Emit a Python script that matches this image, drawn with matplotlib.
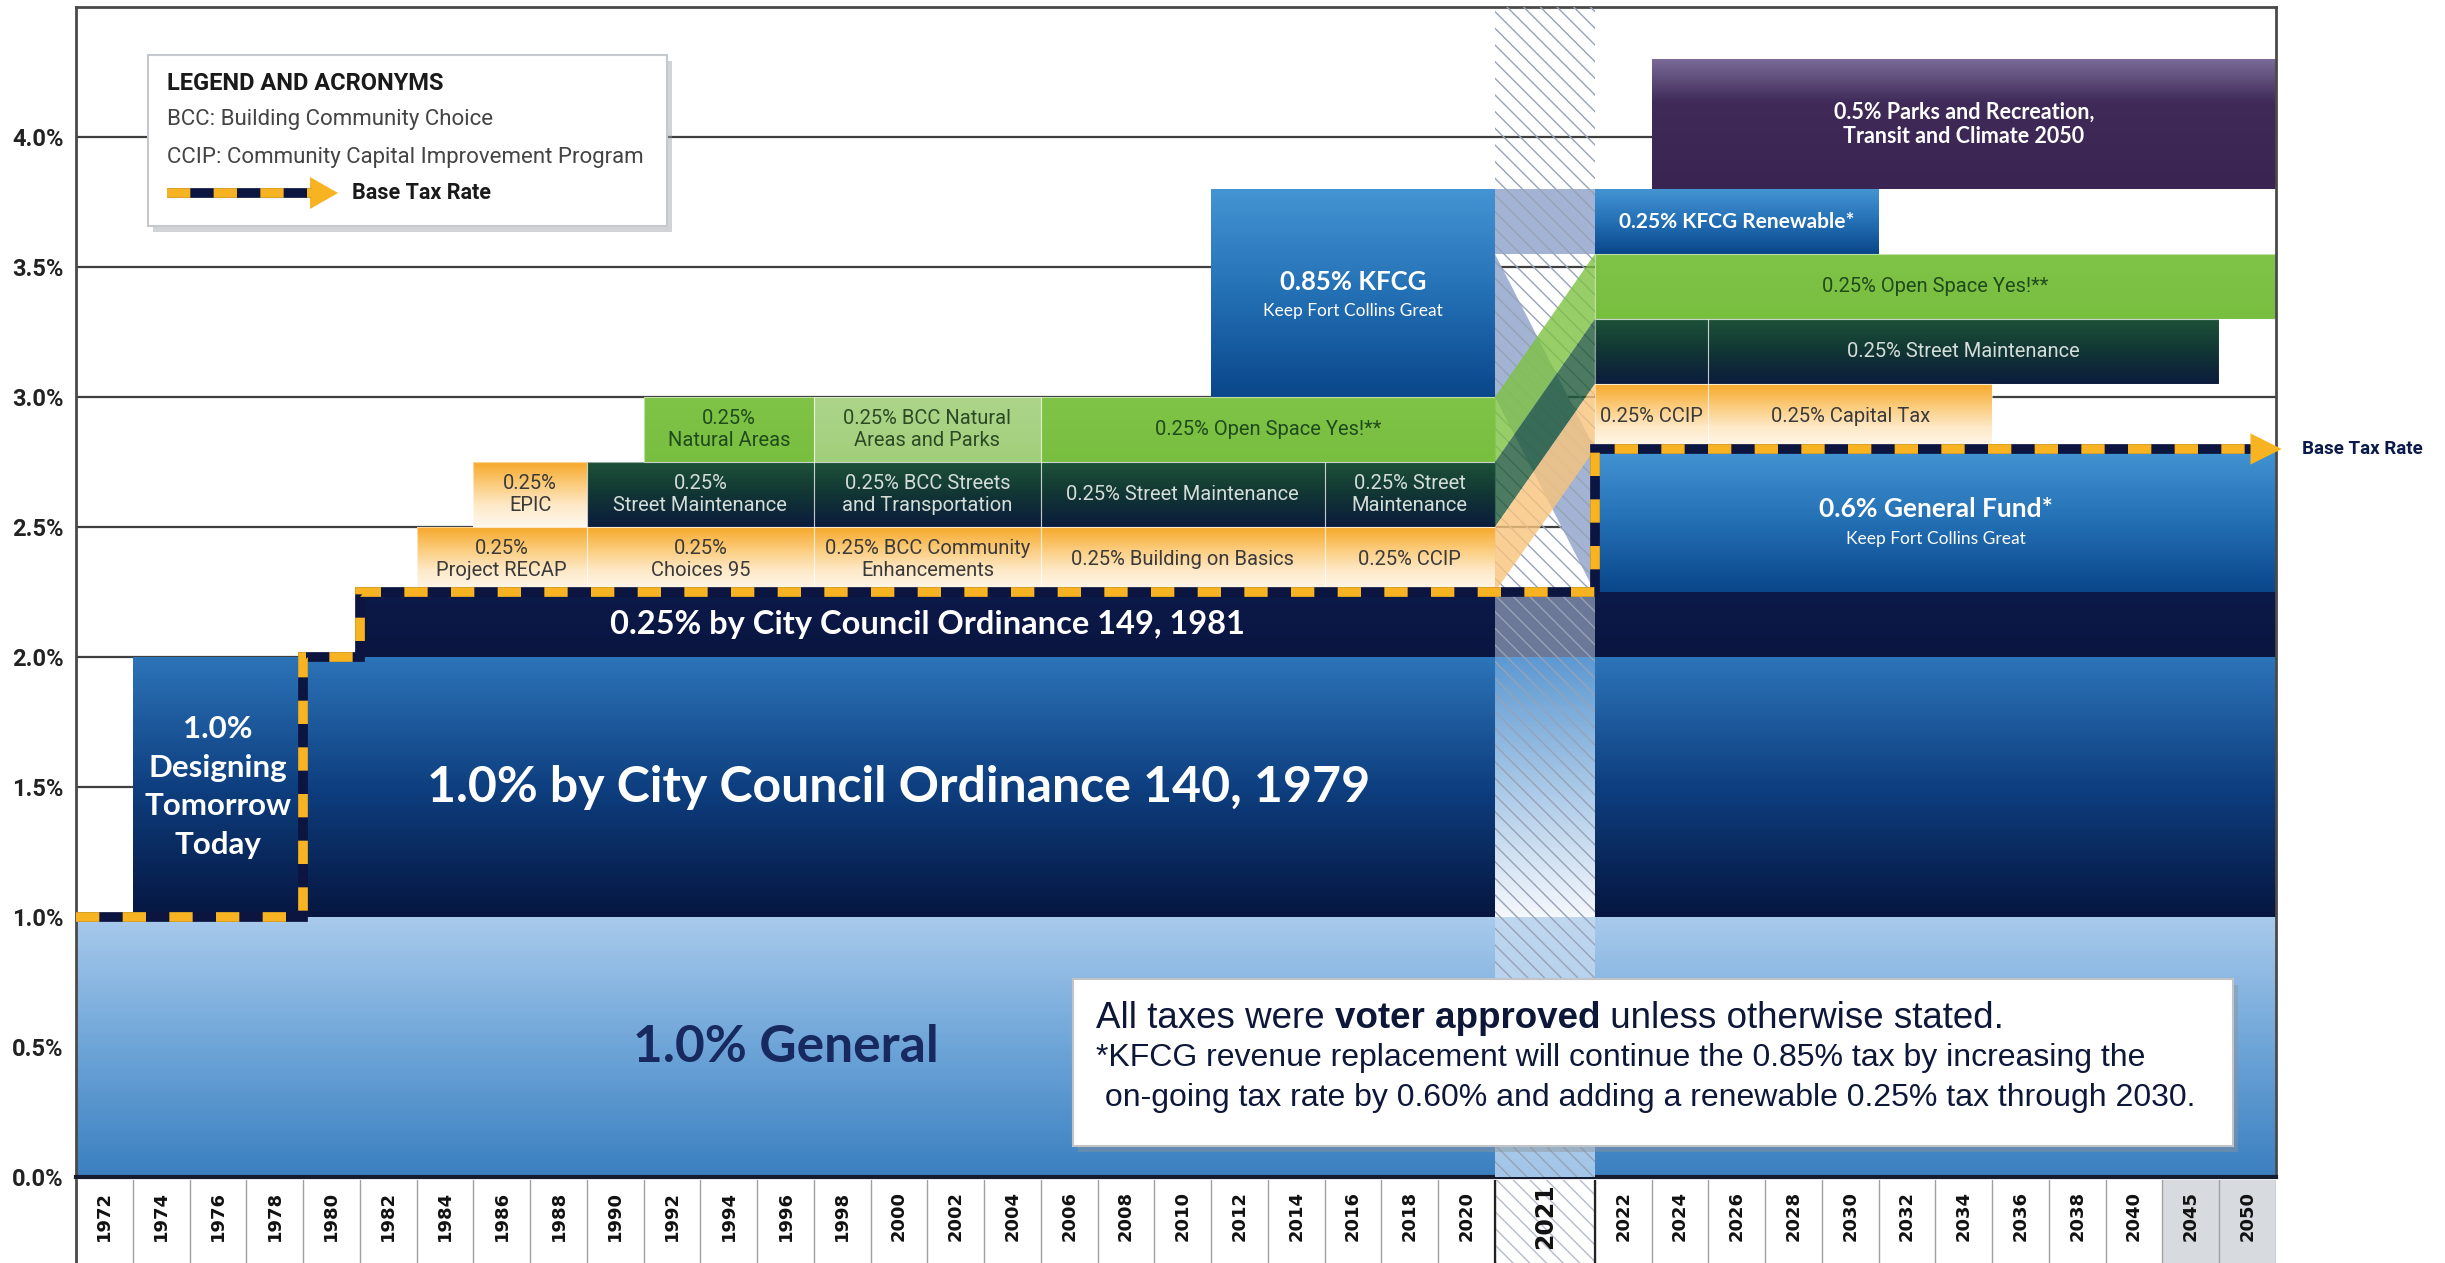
import numpy as np
import matplotlib.pyplot as plt
from matplotlib.colors import to_rgb
from matplotlib.patches import Rectangle, Polygon

# year columns on the x axis (2021 is the wider transition column)
years = ['1972', '1974', '1976', '1978', '1980', '1982', '1984', '1986', '1988',
         '1990', '1992', '1994', '1996', '1998', '2000', '2002', '2004', '2006',
         '2008', '2010', '2012', '2014', '2016', '2018', '2020', '2021', '2022',
         '2024', '2026', '2028', '2030', '2032', '2034', '2036', '2038', '2040',
         '2045', '2050']
rate_ticks = [0.0, 0.5, 1.0, 1.5, 2.0, 2.5, 3.0, 3.5, 4.0]
rate_labels = ['0.0%', '0.5%', '1.0%', '1.5%', '2.0%', '2.5%', '3.0%', '3.5%', '4.0%']

# tax layers: text, subtitle, first column, last column, bottom %, top %, tax type
layer_text = [
    '1.0% General', '',
    '1.0%\nDesigning\nTomorrow\nToday',
    '1.0% by City Council Ordinance 140, 1979', '',
    '0.25% by City Council Ordinance 149, 1981', '',
    '0.25%\nProject RECAP', '0.25%\nEPIC',
    '0.25%\nChoices 95', '0.25%\nStreet Maintenance', '0.25%\nNatural Areas',
    '0.25% BCC Community\nEnhancements', '0.25% BCC Streets\nand Transportation',
    '0.25% BCC Natural\nAreas and Parks',
    '0.25% Building on Basics', '0.25% Street Maintenance', '0.25% Open Space Yes!**',
    '0.85% KFCG', '0.25% CCIP', '0.25% Street\nMaintenance', '',
    '0.6% General Fund*', '0.25% CCIP', '0.25% Capital Tax', '',
    '0.25% Street Maintenance', '0.25% Open Space Yes!**', '0.25% KFCG Renewable*',
    '0.5% Parks and Recreation,\nTransit and Climate 2050',
]
layer_sub = [''] * 18 + ['Keep Fort Collins Great'] + [''] * 3 + ['Keep Fort Collins Great'] + [''] * 7
layer_first = ['1972', '2021', '1974', '1980', '2021', '1982', '2021', '1984', '1986',
               '1990', '1990', '1992', '1998', '1998', '1998', '2006', '2006', '2006',
               '2012', '2016', '2016', '2021', '2022', '2022', '2026', '2022', '2026',
               '2022', '2022', '2024']
layer_last = ['2020', '2050', '1978', '2020', '2050', '2020', '2050', '1988', '1988',
              '1996', '1996', '1996', '2004', '2004', '2004', '2014', '2014', '2020',
              '2020', '2020', '2020', '2021', '2050', '2024', '2034', '2024', '2045',
              '2050', '2030', '2050']
layer_low = [0.0, 0.0, 1.0, 1.0, 1.0, 2.0, 2.0, 2.25, 2.5, 2.25, 2.5, 2.75, 2.25, 2.5,
             2.75, 2.25, 2.5, 2.75, 3.0, 2.25, 2.5, 3.55, 2.25, 2.8, 2.8, 3.05, 3.05,
             3.3, 3.55, 3.8]
layer_high = [1.0, 1.0, 2.0, 2.0, 2.0, 2.25, 2.25, 2.5, 2.75, 2.5, 2.75, 3.0, 2.5, 2.75,
              3.0, 2.5, 2.75, 3.0, 3.8, 2.5, 2.75, 3.8, 2.8, 3.05, 3.05, 3.3, 3.3,
              3.55, 3.8, 4.3]
layer_kind = ['general', 'general', 'ordinance', 'ordinance', 'ordinance', 'council',
              'council', 'capital', 'capital', 'capital', 'streets', 'natural', 'capital',
              'streets', 'natural_bcc', 'capital', 'streets', 'natural', 'kfcg', 'capital',
              'streets', 'kfcg', 'kfcg', 'capital', 'capital', 'streets', 'streets',
              'natural', 'kfcg', 'parks']

# 2021: taxes moving from the old stack to the new one
shift_kind = ['kfcg', 'natural', 'streets', 'capital']
shift_from_low = [3.0, 2.75, 2.5, 2.25]
shift_from_high = [3.55, 3.0, 2.75, 2.5]
shift_to_low = [2.25, 3.3, 3.05, 2.8]
shift_to_high = [2.8, 3.55, 3.3, 3.05]

# base tax rate step line
base_year = ['1972', '1980', '1980', '1982', '1982', '2022', '2022', '2050']
base_rate = [1.0, 1.0, 2.0, 2.0, 2.25, 2.25, 2.8, 2.8]

# ---------------- styles ----------------
GOLD = '#f7b322'
NAVY = '#0b1540'
GRAD = {  # bottom -> top
    'general': ['#3a7fc0', '#6ea5d8', '#a8caec'],
    'ordinance': ['#061640', '#0e3f80', '#2c74b8'],
    'council': ['#0a1540', '#0c1a49'],
    'capital': ['#fff8ee', '#fee9c8', '#fbcb7a', '#f7a82a'],
    'streets': ['#0b1c3d', '#113534', '#1d5238'],
    'natural': ['#78be3f', '#80c447'],
    'natural_bcc': ['#a2cf7b', '#acd589'],
    'kfcg': ['#0a468a', '#2470b5', '#4494d3'],
    'parks': ['#3a2451', '#3d2855', '#3f2a58', '#7a6a97'],
}
FADED = {
    'general': ['#a3c6e8', '#bfd7ef'],
    'ordinance': ['#f5f8fc', '#5d99d2'],
    'council': ['#6b7898', '#6b7898'],
    'kfcg': ['#a3b3d3', '#a3b3d3'],
}
SHIFT_COLOR = {'kfcg': '#a3b3d3', 'natural': '#7dc242', 'streets': '#1f5a3a',
               'capital': '#f8c47c'}
TEXT = {
    'general': dict(color='#17295e', family='Lato', weight='bold', size=37),
    'ordinance': dict(color='white', family='Lato', weight='bold', size=36),
    'council': dict(color='white', family='Lato', weight='bold', size=23.5),
    'capital': dict(color='#3a3a3a', family='Roboto', size=14.5),
    'streets': dict(color='#d4ddd8', family='Roboto', size=14.5),
    'natural': dict(color='#1f4a1b', family='Roboto', size=14.5),
    'natural_bcc': dict(color='#2c4a25', family='Roboto', size=14.5),
    'kfcg': dict(color='white', family='Lato', weight='bold', size=19),
    'parks': dict(color='white', family='Lato', weight='bold', size=15.5),
}
SIZE = {'1.0%\nDesigning\nTomorrow\nToday': 22.5, '0.25% KFCG Renewable*': 15,
        '0.85% KFCG': 18.5}
SPACING = {'1.0%\nDesigning\nTomorrow\nToday': 1.45}

col_w = [1.76 if y == '2021' else 1.0 for y in years]
edges = np.concatenate([[0.0], np.cumsum(col_w)])
left = dict(zip(years, edges[:-1]))
right = dict(zip(years, edges[1:]))
x_end = edges[-1]


def gradient(ax, x0, x1, y0, y1, colors, z=2):
    stops = np.array([to_rgb(c) for c in colors])
    t = np.linspace(0, 1, 200)
    pos = np.linspace(0, 1, len(colors))
    img = np.stack([np.interp(t, pos, stops[:, k]) for k in range(3)], axis=1)[:, None, :]
    ax.imshow(img, extent=(x0, x1, y0, y1), origin='lower', aspect='auto',
              interpolation='nearest', zorder=z)


W, H = 2445, 1263
fig = plt.figure(figsize=(W / 100, H / 100), dpi=100)
ax = fig.add_axes([76 / W, 86 / H, 2200 / W, 1170 / H])

for i in range(len(layer_text)):
    kind = layer_kind[i]
    x0, x1 = left[layer_first[i]], right[layer_last[i]]
    lo, hi = layer_low[i], layer_high[i]
    gradient(ax, x0, x1, lo, hi, GRAD[kind])
    if kind in ('capital', 'streets', 'natural', 'natural_bcc'):
        ax.add_patch(Rectangle((x0, lo), x1 - x0, hi - lo, fill=False, ec='white',
                               lw=0.8, alpha=0.5, zorder=2.1))
    span = years[years.index(layer_first[i]): years.index(layer_last[i]) + 1]
    if '2021' in span:
        gradient(ax, left['2021'], right['2021'], lo, hi, FADED[kind], z=3)
    txt = layer_text[i]
    if not txt:
        continue
    cx, cy = (x0 + x1) / 2, (lo + hi) / 2
    st = dict(TEXT[kind])
    st['size'] = SIZE.get(txt, st['size'])
    if layer_sub[i]:
        ax.annotate(txt, (cx, cy), xytext=(0, 8), textcoords='offset points',
                    ha='center', va='center', zorder=7, **st)
        ax.annotate(layer_sub[i], (cx, cy), xytext=(0, -13), textcoords='offset points',
                    ha='center', va='center', color='white', family='Lato',
                    size=12.5, zorder=7)
    else:
        ax.text(cx, cy, txt, ha='center', va='center', linespacing=SPACING.get(txt, 1.2),
                zorder=7, **st)

# 2021 transition column
c0, c1 = left['2021'], right['2021']
for k, fl, fh, tl, th in zip(shift_kind, shift_from_low, shift_from_high,
                             shift_to_low, shift_to_high):
    poly = Polygon([(c0, fl), (c0, fh), (c1, th), (c1, tl)], closed=True,
                   fc=SHIFT_COLOR[k], ec='none',
                   alpha=1.0 if k == 'kfcg' else 0.8,
                   zorder=3.5 if k == 'kfcg' else 5)
    ax.add_patch(poly)
plt.rcParams['hatch.linewidth'] = 1.0
ax.add_patch(Rectangle((c0, 0), c1 - c0, 4.5, fill=False, hatch='\\\\',
                       ec='#97a2b6', lw=0, zorder=4))

# base tax rate line with arrow
bx = [left[y] for y in base_year[:-1]] + [x_end - 0.4]
ax.plot(bx, base_rate, color=NAVY, lw=7, solid_joinstyle='miter',
        solid_capstyle='butt', zorder=6, clip_on=False)
ax.plot(bx, base_rate, color=GOLD, lw=7, ls=(0, (2.4, 2.4)), dash_joinstyle='miter',
        dash_capstyle='butt', zorder=6.1, clip_on=False)
ax.add_patch(Polygon([(x_end - 0.45, base_rate[-1] + 0.06), (x_end + 0.1, base_rate[-1]),
                      (x_end - 0.45, base_rate[-1] - 0.06)], fc=GOLD, ec='none',
                     zorder=6.2, clip_on=False))
ax.text(x_end + 0.45, base_rate[-1], 'Base Tax Rate', ha='left', va='center',
        family='Roboto', weight='bold', size=13.5, color='#0b1a4a', clip_on=False)

ax.set_xlim(0, x_end)
ax.set_ylim(0, 4.5)
ax.set_xticks([])
ax.set_yticks(rate_ticks)
ax.set_yticklabels(rate_labels, family='Roboto', weight='bold', size=17, color='#222')
ax.tick_params(axis='y', length=0, pad=9)
ax.set_axisbelow(True)
ax.yaxis.grid(True, color='#3f3f3f', lw=1.6)
for s in ax.spines.values():
    s.set_color('#4a4a4a')
    s.set_linewidth(2)
ax.spines['bottom'].set_color('#161c30')
ax.spines['bottom'].set_linewidth(3)

# year label strip
lab = fig.add_axes([76 / W, 0, 2200 / W, 83 / H])
lab.set_xlim(0, x_end)
lab.set_ylim(0, 1)
lab.axvspan(left['2045'], right['2050'], color='#d7dbe0', lw=0)
lab.add_patch(Rectangle((c0, 0), c1 - c0, 1, fill=False, hatch='\\\\', ec='#b5bcc8', lw=0))
for e in edges:
    lab.axvline(e, color='#a0a0a0', lw=1)
lab.axvline(c0, color='#222', lw=1.6)
lab.axvline(c1, color='#222', lw=1.6)
for y in years:
    big = y == '2021'
    lab.text((left[y] + right[y]) / 2, 0.57, y, rotation=90, ha='center', va='center',
             family='DejaVu Sans', weight='bold', size=17 if big else 13, color='#111')
lab.set_xticks([])
lab.set_yticks([])
for name, s in lab.spines.items():
    s.set_visible(name == 'left')
lab.spines['left'].set_color('#4a4a4a')
lab.spines['left'].set_linewidth(2)

# overlay in pixel coordinates for the legend and the note
ov = fig.add_axes([0, 0, 1, 1], zorder=10)
ov.set_xlim(0, W)
ov.set_ylim(H, 0)
ov.axis('off')
ov.patch.set_visible(False)

ov.add_patch(Rectangle((153, 61), 519, 171, fc='#9aa0a6', alpha=0.45, lw=0))
ov.add_patch(Rectangle((148, 55), 519, 171, fc='white', ec='#c5c9cd', lw=1.5))
ov.text(167, 83, 'LEGEND AND ACRONYMS', family='Roboto', weight='bold', size=17,
        color='#1a1a1a', va='center')
ov.text(167, 120, 'BCC: Building Community Choice', family='Roboto', size=16,
        color='#444', va='center')
ov.text(167, 157, 'CCIP: Community Capital Improvement Program', family='Roboto', size=16,
        color='#444', va='center')
ov.plot([167, 312], [193, 193], color=NAVY, lw=7, solid_capstyle='butt')
ov.plot([167, 312], [193, 193], color=GOLD, lw=7, ls=(0, (2.4, 2.4)), dash_capstyle='butt')
ov.add_patch(Polygon([(310, 177), (338, 193), (310, 209)], fc=GOLD, ec='none'))
ov.text(352, 193, 'Base Tax Rate', family='Roboto', weight='bold', size=15.5,
        color='#1a1a1a', va='center')

ov.add_patch(Rectangle((1078, 985), 1160, 167, fc='#8c949c', alpha=0.45, lw=0))
ov.add_patch(Rectangle((1073, 979), 1160, 167, fc='white', ec='#c0c4c8', lw=1.5))
note_c = '#0d1738'
t1 = ov.text(1096, 1036, 'All taxes were ', family='Liberation Sans', size=26.5,
             color=note_c, va='bottom')
t2 = ov.annotate('voter approved', xy=(1, 0), xycoords=t1, va='bottom',
                 family='Liberation Sans', weight='bold', size=26.5, color=note_c)
ov.annotate(' unless otherwise stated.', xy=(1, 0), xycoords=t2, va='bottom',
            family='Liberation Sans', size=26.5, color=note_c)
ov.text(1096, 1058, '*KFCG revenue replacement will continue the 0.85% tax by increasing the',
        family='Liberation Sans', size=23, color=note_c, va='center')
ov.text(1096, 1098, ' on-going tax rate by 0.60% and adding a renewable 0.25% tax through 2030.',
        family='Liberation Sans', size=23, color=note_c, va='center')

fig.savefig('out.png', dpi=100)
